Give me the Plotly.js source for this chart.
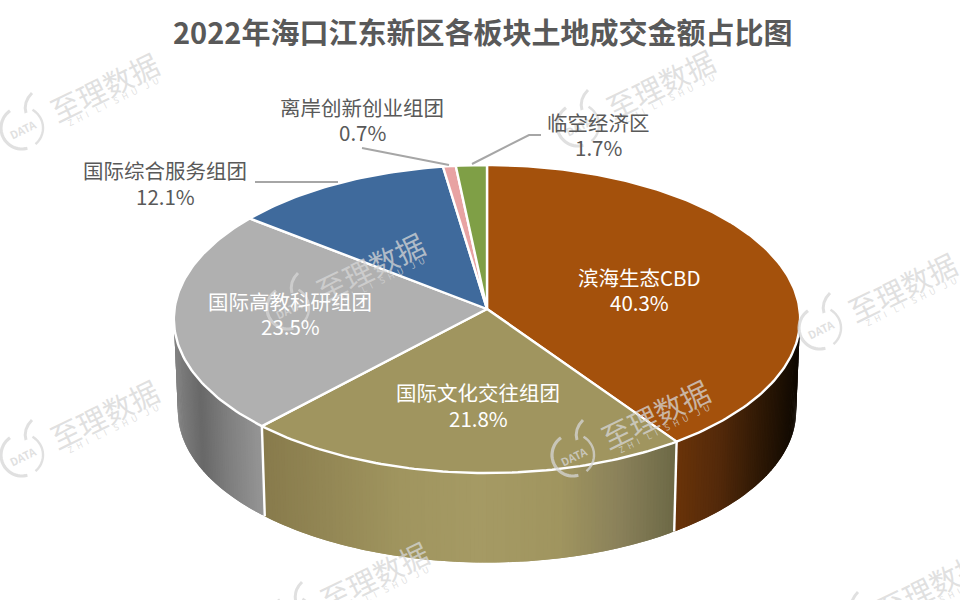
<!DOCTYPE html>
<html><head><meta charset="utf-8">
<script src="https://cdn.plot.ly/plotly-3.0.1.min.js"></script>
<style>html,body{margin:0;padding:0;background:#fff}#c{width:960px;height:600px}</style>
</head><body><div id="c"></div>
<script>
const chartTitle = "2022年海口江东新区各板块土地成交金额占比图";
const categories = ["滨海生态CBD","国际文化交往组团","国际高教科研组团","国际综合服务组团","离岸创新创业组团","临空经济区"];
const shares = [40.3,21.8,23.5,12.1,0.7,1.7];

const FONT = '"Noto Sans CJK SC","Noto Sans",sans-serif';
const topColors = ["#A4510C","#A0955F","#B0B0B0","#3F6A9C","#E8A3A3","#7F9F46"];
const wallStops = [
  [[675,[107,52,9]],[720,[83,41,10]],[760,[48,25,5]],[798,[16,9,2]]],
  [[265,[136,123,76]],[400,[160,149,95]],[480,[165,154,100]],[560,[160,149,95]],[620,[138,129,90]],[673,[110,106,71]]],
  [[175,[128,128,128]],[200,[104,104,104]],[225,[125,125,125]],[265,[152,152,152]]],
  [[0,[60,90,130]],[960,[60,90,130]]],[[0,[200,140,140]],[960,[200,140,140]]],[[0,[110,135,60]],[960,[110,135,60]]]
];
const CX=487, TOP={A:312.5,B:153.4,ay:309,k:0.065}, BOT={A:308.5,B:151,ay:401,k:0.065};
function proj(p,frac){const t=frac*2*Math.PI,u=Math.sin(t),v=Math.cos(t),w=1+p.k*v;
  return [CX+p.A*u/w,p.ay-p.B*v/w];}
function wallColor(stops,x){
  if(x<=stops[0][0])return stops[0][1];
  for(let i=1;i<stops.length;i++){if(x<=stops[i][0]){const a=stops[i-1],b=stops[i],f=(x-a[0])/(b[0]-a[0]);
    return a[1].map((c,j)=>c+(b[1][j]-c)*f);}}
  return stops[stops.length-1][1];
}
const total=shares.reduce((a,b)=>a+b,0);
const edges=[0];shares.forEach(s=>edges.push(edges[edges.length-1]+s/total));

const traces=[];
function poly(xs,ys,fill,line,width){traces.push({type:"scatter",mode:"lines",x:xs,y:ys,fill:"toself",fillcolor:fill,
  line:{color:line,width:width},hoverinfo:"skip",showlegend:false});}
// walls: each strip runs under the next one so no seams show
const vis0=0.235, vis1=0.765;
categories.forEach((c,i)=>{
  const a=Math.max(edges[i],vis0), b=Math.min(edges[i+1],vis1);
  if(b<=a)return;
  const n=Math.ceil((b-a)*360*1.5);
  for(let j=0;j<n;j++){
    const f0=a+(b-a)*j/n,f1=Math.min(b,a+(b-a)*(j+2)/n),fm=a+(b-a)*(j+1)/n;
    const p0=proj(TOP,f0),p1=proj(TOP,f1),q1=proj(BOT,f1),q0=proj(BOT,f0),pm=proj(TOP,fm),qm=proj(BOT,fm);
    const col=wallColor(wallStops[i],(p0[0]+pm[0])/2).map(Math.round);
    const css=`rgb(${col[0]},${col[1]},${col[2]})`;
    poly([p0[0],pm[0],p1[0],q1[0],qm[0],q0[0],p0[0]],[p0[1],pm[1],p1[1],q1[1],qm[1],q0[1],p0[1]],css,css,0);
  }
});
// white seams on the wall at slice boundaries
edges.forEach(e=>{ if(e>vis0&&e<vis1){const p=proj(TOP,e),q=proj(BOT,e);
  traces.push({type:"scatter",mode:"lines",x:[p[0],q[0]],y:[p[1],q[1]],line:{color:"#fff",width:2.4},hoverinfo:"skip",showlegend:false});}});
// top slices
categories.forEach((c,i)=>{
  const xs=[CX],ys=[TOP.ay],n=Math.max(4,Math.ceil((edges[i+1]-edges[i])*360));
  for(let j=0;j<=n;j++){const p=proj(TOP,edges[i]+(edges[i+1]-edges[i])*j/n);xs.push(p[0]);ys.push(p[1]);}
  xs.push(CX);ys.push(TOP.ay);
  poly(xs,ys,topColors[i],"#fff",2.4);
});

// labels
const pct=shares.map(v=>v.toFixed(1)+"%");
const annotations=[];
function lbl(i,x,y1,y2,color){
  [[categories[i],y1],[pct[i],y2]].forEach(([t,y])=>annotations.push({xref:"x",yref:"y",x:x,y:y,text:t,showarrow:false,
    xanchor:"center",yanchor:"middle",font:{family:FONT,size:20.5,color:color}}));
}
const shapes=[];
function lead(pts){shapes.push({type:"path",xref:"x",yref:"y",layer:"above",
  path:"M"+pts.map(p=>p.join(",")).join("L"),line:{color:"#A6A6A6",width:2},fillcolor:"rgba(0,0,0,0)"});}
lead([[255,182],[338,182]]);
lead([[362,148],[449,165]]);
lead([[472,164],[529,135],[541,135]]);

// watermarks
const WM="rgba(214,214,214,0.75)";
const wmOrigins=[[22,128],[288,308],[573,455],[820,328],[578,125],[22,455],[292,617],[848,627]];
function arcPath(cx,cy,r,a0,a1){let s="";for(let k=0;k<=30;k++){const t=(a0+(a1-a0)*k/30)*Math.PI/180;
  s+=(k?"L":"M")+(cx+r*Math.cos(t)).toFixed(1)+","+(cy+r*Math.sin(t)).toFixed(1);}return s;}
wmOrigins.forEach(o=>{
  const [x,y]=o;
  shapes.push({type:"path",xref:"x",yref:"y",layer:"above",path:arcPath(x,y,21,-60,50),line:{color:WM,width:2.4},fillcolor:"rgba(0,0,0,0)"});
  shapes.push({type:"path",xref:"x",yref:"y",layer:"above",path:arcPath(x,y,21,75,235),line:{color:WM,width:3.2},fillcolor:"rgba(0,0,0,0)"});
  shapes.push({type:"path",xref:"x",yref:"y",layer:"above",path:`M${x+10},${y-35}Q${x+1},${y-26} ${x+4},${y-15}`,line:{color:WM,width:3},fillcolor:"rgba(0,0,0,0)"});
  annotations.push({xref:"x",yref:"y",x:x+1,y:y+1,text:"<b>DATA</b>",textangle:-26,showarrow:false,font:{family:FONT,size:11,color:WM}});
  annotations.push({xref:"x",yref:"y",x:x+82,y:y-42,text:"至理数据",textangle:-26,showarrow:false,font:{family:FONT,size:29,color:WM}});
  annotations.push({xref:"x",yref:"y",x:x+91,y:y-27,text:"Z\u2002H\u2002I\u2003L\u2002I\u2003S\u2002H\u2002U\u2003J\u2002U",textangle:-26,showarrow:false,font:{family:FONT,size:8.5,color:WM}});
});
lbl(0,639,277,302,"#fff");lbl(1,478,392,418,"#fff");lbl(2,290,301,326,"#fff");
lbl(3,165,170,196,"#595959");lbl(4,362,107,132,"#595959");lbl(5,598,122,147,"#595959");

const layout={width:960,height:600,margin:{l:0,r:0,t:0,b:0},paper_bgcolor:"#fff",plot_bgcolor:"rgba(0,0,0,0)",showlegend:false,
  title:{text:"<b>"+chartTitle+"</b>",x:0.5028,xanchor:"center",xref:"paper",y:0.943,yanchor:"middle",font:{family:FONT,size:29,color:"#595959"}},
  xaxis:{range:[0,960],visible:false,fixedrange:true},
  yaxis:{range:[600,0],visible:false,fixedrange:true},
  annotations:annotations,shapes:shapes};
Plotly.newPlot("c",traces,layout,{displayModeBar:false,staticPlot:true});
</script></body></html>
